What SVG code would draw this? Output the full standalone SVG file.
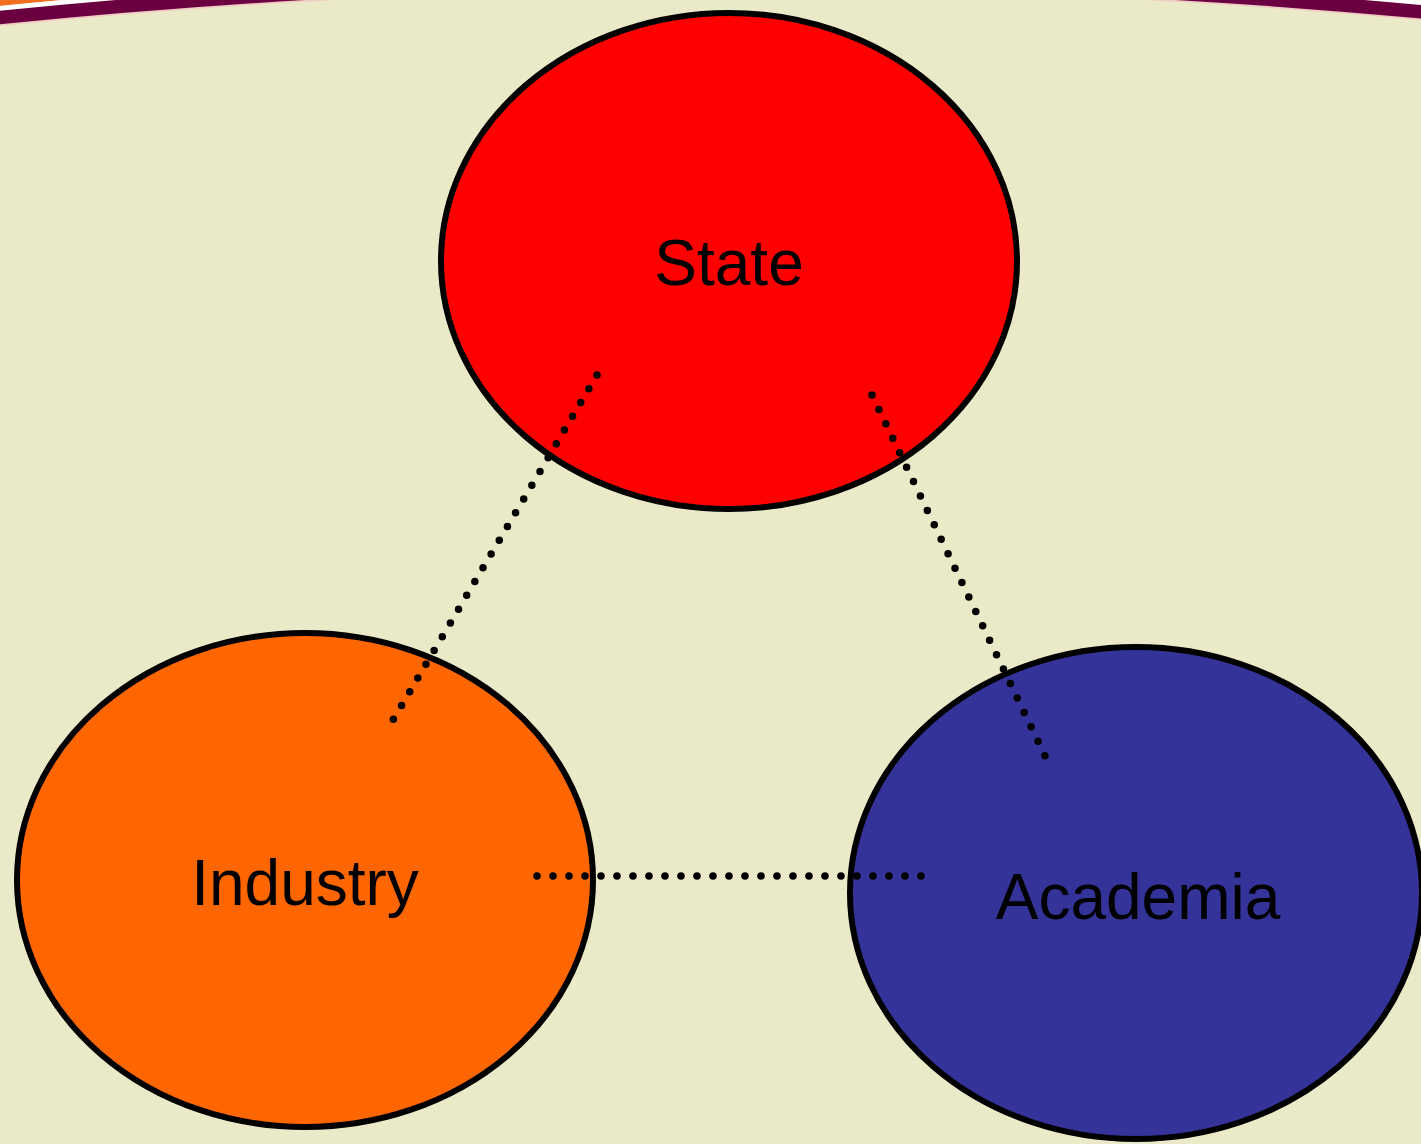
<svg xmlns="http://www.w3.org/2000/svg" width="1421" height="1144" viewBox="0 0 1421 1144">
<style>
.node{stroke:#000;stroke-width:6}
.lbl{font-family:"Liberation Sans",Arial,sans-serif;font-size:64px;fill:#000;text-anchor:middle}
.dot{stroke:#000;stroke-width:7.5;stroke-linecap:round;stroke-dasharray:0 16;fill:none}
.band{fill:none}
</style>
<rect width="1421" height="1144" fill="#EAEAC8"/>
<g id="band">
<path class="band" d="M-10,-3 Q740,-79.2 1490,-3" stroke="#F07020" stroke-width="20"/>
<path class="band" d="M-10,9.5 Q740,-66.7 1490,9.5" stroke="#FFFFFF" stroke-width="5"/>
<path class="band" d="M-10,26 Q740,-50.2 1490,26" stroke="#F2CCC4" stroke-width="2"/>
<path class="band" d="M-10,18.5 Q740,-57.7 1490,18.5" stroke="#6A0040" stroke-width="13.5"/>
</g>
<g id="state"><ellipse class="node" cx="729" cy="261" rx="288" ry="248" fill="#FF0000"/><text class="lbl" x="729" y="285">State</text></g>
<g id="industry"><ellipse class="node" cx="305" cy="880" rx="288" ry="247" fill="#FF6600"/><text class="lbl" x="305" y="905">Industry</text></g>
<g id="academia"><ellipse class="node" cx="1136" cy="893" rx="286" ry="246" fill="#333399"/><text class="lbl" x="1138" y="919">Academia</text></g>
<g id="connectors">
<line class="dot" x1="597" y1="375" x2="393" y2="720"/>
<line class="dot" x1="872" y1="395" x2="1047" y2="760"/>
<line class="dot" x1="537" y1="876" x2="922" y2="876"/>
</g>
</svg>
